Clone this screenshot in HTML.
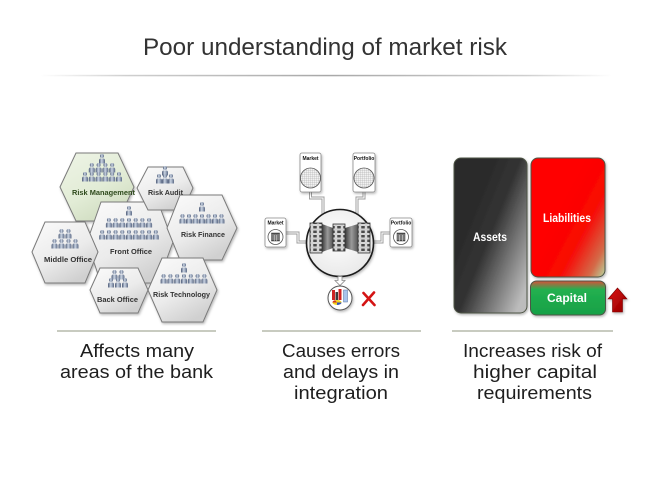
<!DOCTYPE html>
<html>
<head>
<meta charset="utf-8">
<style>
  html,body{margin:0;padding:0;background:#fff;}
  body{width:650px;height:488px;overflow:hidden;}
  svg{display:block;}
  .lbl{font-family:"Liberation Sans",sans-serif;font-weight:bold;font-size:7.5px;fill:#333;text-anchor:middle;}
  .cap{font-family:"Liberation Sans",sans-serif;font-size:18px;fill:#1e1e1e;text-anchor:middle;}
  .card{font-family:"Liberation Sans",sans-serif;font-weight:bold;font-size:5px;fill:#111;text-anchor:middle;}
  .box{font-family:"Liberation Sans",sans-serif;font-weight:bold;font-size:12px;fill:#fff;text-anchor:middle;}
</style>
</head>
<body>
<svg width="650" height="488" viewBox="0 0 650 488" xmlns="http://www.w3.org/2000/svg">
  <defs>
    <linearGradient id="tl" gradientUnits="userSpaceOnUse" x1="40" y1="0" x2="612" y2="0">
      <stop offset="0" stop-color="#fff"/>
      <stop offset="0.15" stop-color="#cfcfcf"/>
      <stop offset="0.5" stop-color="#a8a8a8"/>
      <stop offset="0.85" stop-color="#cfcfcf"/>
      <stop offset="1" stop-color="#fff"/>
    </linearGradient>
    <linearGradient id="hx" x1="0" y1="0" x2="0.6" y2="1">
      <stop offset="0" stop-color="#fbfbfb"/>
      <stop offset="0.6" stop-color="#ebebeb"/>
      <stop offset="1" stop-color="#d0d0d0"/>
    </linearGradient>
    <linearGradient id="hxg" x1="0" y1="0" x2="0.6" y2="1">
      <stop offset="0" stop-color="#eef4e6"/>
      <stop offset="0.6" stop-color="#e2ecd6"/>
      <stop offset="1" stop-color="#cfdcc0"/>
    </linearGradient>
    <linearGradient id="pg" x1="0" y1="0" x2="1" y2="0">
      <stop offset="0" stop-color="#4c5a76"/>
      <stop offset="0.45" stop-color="#c9d3e2"/>
      <stop offset="1" stop-color="#5c6a86"/>
    </linearGradient>
    <g id="pp">
      <circle cx="0" cy="2" r="2" fill="url(#pg)"/>
      <path d="M-3,9.5 V6.4 Q-3,4.5 -1.2,4.5 H1.2 Q3,4.5 3,6.4 V9.5 Z" fill="url(#pg)"/>
    </g>
    <filter id="sh" x="-20%" y="-20%" width="140%" height="140%">
      <feDropShadow dx="1" dy="1.5" stdDeviation="1.2" flood-color="#000" flood-opacity="0.28"/>
    </filter>
    <pattern id="grid" width="2" height="2" patternUnits="userSpaceOnUse">
      <rect width="2" height="2" fill="#f2f2f2"/>
      <path d="M0,0 H2 M0,0 V2" stroke="#a0a0a0" stroke-width="0.5"/>
    </pattern>
    <pattern id="cells" width="6" height="4.5" patternUnits="userSpaceOnUse">
      <rect width="6" height="4.5" fill="#cfcfcf"/>
      <rect x="1" y="0.8" width="4" height="3" fill="#4a4a4a" stroke="#f4f4f4" stroke-width="0.4"/>
    </pattern>
    <linearGradient id="tun" x1="0" y1="0" x2="1" y2="0">
      <stop offset="0" stop-color="#3a3a3a"/>
      <stop offset="0.5" stop-color="#9a9a9a"/>
      <stop offset="1" stop-color="#555"/>
    </linearGradient>
    <radialGradient id="cir" cx="0.45" cy="0.4" r="0.7">
      <stop offset="0" stop-color="#ffffff"/>
      <stop offset="1" stop-color="#e6e6e6"/>
    </radialGradient>
    <linearGradient id="ga" x1="0.15" y1="0.4" x2="0.85" y2="1">
      <stop offset="0" stop-color="#2a2a2a"/>
      <stop offset="0.35" stop-color="#333"/>
      <stop offset="1" stop-color="#bcbcbc"/>
    </linearGradient>
    <linearGradient id="gl" x1="0.35" y1="0.45" x2="1" y2="1">
      <stop offset="0" stop-color="#ff0000"/>
      <stop offset="0.45" stop-color="#f80a06"/>
      <stop offset="0.8" stop-color="#d46a48"/>
      <stop offset="1" stop-color="#b8d8a0"/>
    </linearGradient>
    <linearGradient id="gc" x1="0" y1="0" x2="0" y2="1">
      <stop offset="0" stop-color="#d8503a"/>
      <stop offset="0.25" stop-color="#22b050"/>
      <stop offset="1" stop-color="#17a046"/>
    </linearGradient>
    <linearGradient id="gar" x1="0" y1="0" x2="1" y2="1">
      <stop offset="0" stop-color="#e01010"/>
      <stop offset="1" stop-color="#900000"/>
    </linearGradient>
  </defs>

  <!-- Title -->
  <text x="325" y="55" font-family="Liberation Sans, sans-serif" font-size="24" fill="#333" text-anchor="middle" textLength="364" lengthAdjust="spacingAndGlyphs">Poor understanding of market risk</text>
  <rect x="40" y="74.8" width="572" height="1.5" fill="url(#tl)"/>

  <!-- Hexagons -->
  <g stroke="#7a7a7a" stroke-width="1" filter="url(#sh)">
    <polygon points="60,187 76,153 118,153 134,187 118,221 76,221" fill="url(#hxg)"/>
    <polygon points="87,242 101,202 158,202 173,242 158,283 101,283" fill="url(#hx)"/>
    <polygon points="32,252 45,222 85,222 98,252 85,283 45,283" fill="url(#hx)"/>
    <polygon points="137,188 148,167 183,167 193,188 183,210 148,210" fill="url(#hx)"/>
    <polygon points="167,228 180,195 222,195 237,228 222,260 180,260" fill="url(#hx)"/>
    <polygon points="90,290 100,268 138,268 148,290 138,313 100,313" fill="url(#hx)"/>
    <polygon points="148,290 162,258 203,258 217,290 203,322 162,322" fill="url(#hx)"/>
  </g>

  <!-- People: Risk Management -->
  <use href="#pp" x="102" y="154"/>
  <use href="#pp" x="91.8" y="163"/><use href="#pp" x="98.6" y="163"/><use href="#pp" x="105.4" y="163"/><use href="#pp" x="112.2" y="163"/>
  <use href="#pp" x="85" y="172"/><use href="#pp" x="91.8" y="172"/><use href="#pp" x="98.6" y="172"/><use href="#pp" x="105.4" y="172"/><use href="#pp" x="112.2" y="172"/><use href="#pp" x="119" y="172"/>
  <!-- Front Office -->
  <use href="#pp" x="129" y="206"/>
  <use href="#pp" x="108.9" y="218"/><use href="#pp" x="115.6" y="218"/><use href="#pp" x="122.3" y="218"/><use href="#pp" x="129" y="218"/><use href="#pp" x="135.7" y="218"/><use href="#pp" x="142.4" y="218"/><use href="#pp" x="149.1" y="218"/>
  <use href="#pp" x="102.2" y="230"/><use href="#pp" x="108.9" y="230"/><use href="#pp" x="115.6" y="230"/><use href="#pp" x="122.3" y="230"/><use href="#pp" x="129" y="230"/><use href="#pp" x="135.7" y="230"/><use href="#pp" x="142.4" y="230"/><use href="#pp" x="149.1" y="230"/><use href="#pp" x="155.8" y="230"/>
  <!-- Middle Office -->
  <use href="#pp" x="61.5" y="229"/><use href="#pp" x="68.5" y="229"/>
  <use href="#pp" x="54.5" y="239"/><use href="#pp" x="61.5" y="239"/><use href="#pp" x="68.5" y="239"/><use href="#pp" x="75.5" y="239"/>
  <!-- Risk Audit -->
  <use href="#pp" x="165" y="166"/>
  <use href="#pp" x="159" y="174"/><use href="#pp" x="165" y="174"/><use href="#pp" x="171" y="174"/>
  <!-- Risk Finance -->
  <use href="#pp" x="202" y="202"/>
  <use href="#pp" x="182.5" y="214"/><use href="#pp" x="189" y="214"/><use href="#pp" x="195.5" y="214"/><use href="#pp" x="202" y="214"/><use href="#pp" x="208.5" y="214"/><use href="#pp" x="215" y="214"/><use href="#pp" x="221.5" y="214"/>
  <!-- Back Office -->
  <use href="#pp" x="114.5" y="270"/><use href="#pp" x="121.5" y="270"/>
  <use href="#pp" x="111" y="278"/><use href="#pp" x="118" y="278"/><use href="#pp" x="125" y="278"/>
  <!-- Risk Technology -->
  <use href="#pp" x="184" y="263"/>
  <use href="#pp" x="163.6" y="274"/><use href="#pp" x="170.4" y="274"/><use href="#pp" x="177.2" y="274"/><use href="#pp" x="184" y="274"/><use href="#pp" x="190.8" y="274"/><use href="#pp" x="197.6" y="274"/><use href="#pp" x="204.4" y="274"/>

  <!-- Hex labels -->
  <text class="lbl" x="103.5" y="195" style="fill:#2e4a1c" textLength="63" lengthAdjust="spacingAndGlyphs">Risk Management</text>
  <text class="lbl" x="165.5" y="195" textLength="35" lengthAdjust="spacingAndGlyphs">Risk Audit</text>
  <text class="lbl" x="203" y="237" textLength="44" lengthAdjust="spacingAndGlyphs">Risk Finance</text>
  <text class="lbl" x="131" y="254" textLength="42" lengthAdjust="spacingAndGlyphs">Front Office</text>
  <text class="lbl" x="68" y="262" textLength="48" lengthAdjust="spacingAndGlyphs">Middle Office</text>
  <text class="lbl" x="117.5" y="302" textLength="41" lengthAdjust="spacingAndGlyphs">Back Office</text>
  <text class="lbl" x="181.5" y="297" textLength="57" lengthAdjust="spacingAndGlyphs">Risk Technology</text>

  <!-- Middle diagram: connectors -->
  <g fill="none" stroke-linejoin="miter">
    <g stroke="#9c9c9c" stroke-width="3">
      <path d="M310.5,192 V198 H323 V214"/>
      <path d="M364,192 V198 H357 V214"/>
      <path d="M286,233 H298 V242 H307"/>
      <path d="M390,233 H382 V242 H373"/>
    </g>
    <g stroke="#fff" stroke-width="1.1">
      <path d="M310.5,191 V198 H323 V215"/>
      <path d="M364,191 V198 H357 V215"/>
      <path d="M285,233 H298 V242 H308"/>
      <path d="M391,233 H382 V242 H372"/>
    </g>
  </g>

  <!-- Cards -->
  <g filter="url(#sh)" stroke="#8a8a8a" stroke-width="0.8" fill="#fff">
    <rect x="300" y="153" width="21" height="39" rx="2"/>
    <rect x="353" y="153" width="22" height="39" rx="2"/>
    <rect x="265" y="218" width="21" height="29" rx="2"/>
    <rect x="390" y="218" width="22" height="29" rx="2"/>
  </g>
  <text class="card" x="310.5" y="160">Market</text>
  <text class="card" x="364" y="160">Portfolio</text>
  <text class="card" x="275.5" y="224.5">Market</text>
  <text class="card" x="401" y="224.5">Portfolio</text>
  <circle cx="310.5" cy="178" r="10" fill="url(#grid)" stroke="#555" stroke-width="0.8"/>
  <circle cx="364" cy="178" r="10" fill="url(#grid)" stroke="#555" stroke-width="0.8"/>
  <circle cx="275.5" cy="237" r="7.5" fill="#fff" stroke="#555" stroke-width="0.8"/>
  <circle cx="401" cy="237" r="7.5" fill="#fff" stroke="#555" stroke-width="0.8"/>
  <g stroke="#eee" stroke-width="0.5">
    <rect x="271.5" y="233" width="8" height="8" fill="#505050" stroke="#333"/>
    <path d="M271.5,235 H279.5 M271.5,237 H279.5 M271.5,239 H279.5 M274.2,235 V241 M276.8,235 V241"/>
    <rect x="397" y="233" width="8" height="8" fill="#505050" stroke="#333"/>
    <path d="M397,235 H405 M397,237 H405 M397,239 H405 M399.7,235 V241 M402.3,235 V241"/>
  </g>

  <!-- Big circle -->
  <circle cx="340" cy="243" r="33.5" fill="url(#cir)" stroke="#1a1a1a" stroke-width="1.6" filter="url(#sh)"/>
  <polygon points="322,224 333,228 333,248 322,252" fill="url(#tun)"/>
  <polygon points="345,228 358,224 358,252 345,248" fill="url(#tun)"/>
  <g stroke="#333" stroke-width="0.8">
    <rect x="310" y="223" width="12" height="30" fill="url(#cells)"/>
    <rect x="333" y="224" width="12" height="27" fill="url(#cells)"/>
    <rect x="358" y="223" width="12" height="30" fill="url(#cells)"/>
  </g>

  <!-- Down arrow -->
  <path d="M338,276.5 H342 V280.5 H345 L340,285.5 L335,280.5 H338 Z" fill="#fff" stroke="#8a8a8a" stroke-width="0.8"/>

  <!-- Report icon -->
  <circle cx="340" cy="298" r="12" fill="#fff" stroke="#555" stroke-width="1" filter="url(#sh)"/>
  <rect x="332" y="290" width="3" height="10" fill="#cc2222"/>
  <rect x="335.5" y="292" width="2.5" height="8" fill="#3a3a3a"/>
  <rect x="338.5" y="289" width="3" height="11" fill="#d02020"/>
  <rect x="343.5" y="290" width="4" height="12" fill="#a8c4ec" stroke="#5570a0" stroke-width="0.5"/>
  <ellipse cx="337" cy="302.5" rx="4.5" ry="2.5" fill="#f2d21c"/>
  <path d="M337,302.5 L341.5,302.5 A4.5,2.5 0 0 1 337,305 Z" fill="#3050c0"/>
  <path d="M337,302.5 L332.5,302.5 A4.5,2.5 0 0 1 335,300.3 Z" fill="#d03020"/>

  <!-- Red X -->
  <g stroke="#d41414" stroke-width="2.6" stroke-linecap="round">
    <path d="M363.5,293 L374.5,305"/>
    <path d="M374,292.5 L363,305"/>
  </g>

  <!-- Right diagram -->
  <g filter="url(#sh)" stroke="#4e5444" stroke-width="1">
    <rect x="454" y="158" width="73" height="155" rx="7" fill="url(#ga)"/>
    <rect x="531" y="158" width="74" height="119" rx="7" fill="url(#gl)"/>
    <rect x="530.5" y="281" width="75" height="34" rx="6" fill="url(#gc)"/>
    <path d="M608,299 L617.5,288 L627,299 H622.5 V312 H612.5 V299 Z" fill="url(#gar)" stroke="#7a0000" stroke-width="0.6"/>
  </g>
  <text class="box" x="490" y="241" textLength="34" lengthAdjust="spacingAndGlyphs">Assets</text>
  <text class="box" x="567" y="222" textLength="48" lengthAdjust="spacingAndGlyphs">Liabilities</text>
  <text class="box" x="567" y="302" textLength="40" lengthAdjust="spacingAndGlyphs">Capital</text>

  <!-- Separator lines -->
  <g stroke="#a6ac9a" stroke-width="1.2">
    <line x1="57" y1="331" x2="216" y2="331"/>
    <line x1="262" y1="331" x2="421" y2="331"/>
    <line x1="452" y1="331" x2="613" y2="331"/>
  </g>

  <!-- Captions -->
  <text class="cap" x="137" y="357" textLength="114" lengthAdjust="spacingAndGlyphs">Affects many</text>
  <text class="cap" x="136.5" y="378" textLength="153" lengthAdjust="spacingAndGlyphs">areas of the bank</text>

  <text class="cap" x="341" y="357" textLength="118" lengthAdjust="spacingAndGlyphs">Causes errors</text>
  <text class="cap" x="341" y="378" textLength="116" lengthAdjust="spacingAndGlyphs">and delays in</text>
  <text class="cap" x="341" y="399" textLength="94" lengthAdjust="spacingAndGlyphs">integration</text>

  <text class="cap" x="532.5" y="357" textLength="139" lengthAdjust="spacingAndGlyphs">Increases risk of</text>
  <text class="cap" x="535" y="378" textLength="124" lengthAdjust="spacingAndGlyphs">higher capital</text>
  <text class="cap" x="534.5" y="399" textLength="115" lengthAdjust="spacingAndGlyphs">requirements</text>
</svg>
</body>
</html>
